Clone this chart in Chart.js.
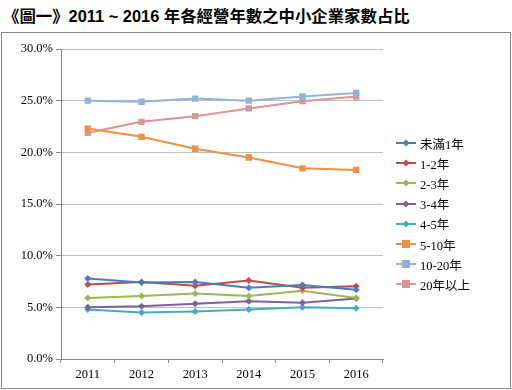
<!DOCTYPE html>
<html><head><meta charset="utf-8">
<script src="https://cdn.jsdelivr.net/npm/chart.js@4"></script>
<style>
html,body{margin:0;padding:0;background:#fff;width:512px;height:390px;overflow:hidden;position:relative}
#title{position:absolute;left:3px;top:3px;font:bold 16.4px "Liberation Sans","Noto Sans CJK TC",sans-serif;color:#000;white-space:nowrap;letter-spacing:0px}
#box{position:absolute;left:1px;top:32px;width:508px;height:355px;border:1px solid #868686}
#wrap{position:absolute;left:1px;top:1px;width:507px;height:354px}
#legend{position:absolute;left:396px;top:133px;font:12.5px "Liberation Serif","Noto Sans CJK TC",serif;color:#000}
.li{height:20.2px;display:flex;align-items:center;position:relative}
.ln{width:20px;height:2px;margin-right:4px;position:relative}
.mk{position:absolute;left:50%;top:50%}
</style></head><body>
<div id="title">《圖一》2011 ~ 2016 年各經營年數之中小企業家數占比</div>
<div id="box"><div id="wrap"><canvas id="c" width="507" height="354"></canvas></div></div>
<div id="legend"></div>
<script>
const years = ['2011','2012','2013','2014','2015','2016'];
const seriesNames = ['未滿1年','1-2年','2-3年','3-4年','4-5年','5-10年','10-20年','20年以上'];
const lt1   = [7.8, 7.4, 7.45, 6.9, 7.15, 6.7];
const y1to2 = [7.2, 7.45, 7.1, 7.6, 6.9, 7.05];
const y2to3 = [5.9, 6.1, 6.35, 6.1, 6.6, 5.9];
const y3to4 = [5.0, 5.1, 5.35, 5.6, 5.45, 5.85];
const y4to5 = [4.8, 4.5, 4.6, 4.8, 5.0, 4.9];
const y5to10 = [22.3, 21.5, 20.35, 19.5, 18.45, 18.3];
const y10to20 = [25.0, 24.9, 25.2, 25.0, 25.4, 25.75];
const y20plus = [21.9, 22.95, 23.5, 24.25, 24.95, 25.4];
const yTicks = [0, 5, 10, 15, 20, 25, 30];

const values = [lt1, y1to2, y2to3, y3to4, y4to5, y5to10, y10to20, y20plus];
const colors = ['#4A7EBB','#BE4B48','#98B954','#7D60A0','#46AAC5','#F09040','#95B3D7','#D99694'];
const shapes = ['rectRot','rectRot','rectRot','rectRot','rectRot','rect','rect','rect'];

const datasets = values.map((v,i)=>({
  label: seriesNames[i], data: v,
  borderColor: colors[i], backgroundColor: colors[i],
  borderWidth: 2, pointStyle: shapes[i],
  pointRadius: shapes[i]==='rect'?4.5:3.5,
  pointBorderWidth: 0, tension: 0
}));

const tickFont = { family: '"Liberation Serif", "Times New Roman", serif', size: 12.5 };

new Chart(document.getElementById('c'), {
  type: 'line',
  data: { labels: years, datasets },
  options: {
    responsive: false, animation: false,
    layout: { padding: { left: 0, right: 127, top: 15, bottom: 0 } },
    plugins: { legend: { display: false }, tooltip: { enabled: false } },
    scales: {
      x: {
        offset: true,
        grid: { offset: true, drawOnChartArea: false, drawTicks: true, tickLength: 4, color: '#868686' },
        border: { color: '#868686', width: 1 },
        ticks: { color: '#000', font: tickFont, padding: 4, maxRotation: 0 },
        afterFit: s => { s.height = 29; }
      },
      y: {
        min: 0, max: 30,
        afterBuildTicks: s => { s.ticks = yTicks.map(v => ({ value: v })); },
        grid: { color: '#BFBFBF', lineWidth: 1, tickLength: 5, tickColor: '#868686' },
        border: { color: '#868686', width: 1 },
        ticks: { color: '#000', font: tickFont, padding: 3,
                 callback: v => v.toFixed(1) + '%' },
        afterFit: s => { s.width = 58; }
      }
    }
  }
});

const leg = document.getElementById('legend');
seriesNames.forEach((n,i)=>{
  const sq = shapes[i]==='rect';
  const sz = sq ? 8 : 5;
  const rot = sq ? '' : 'rotate(45deg)';
  leg.innerHTML += `<div class="li"><div class="ln" style="background:${colors[i]}"><div class="mk" style="width:${sz}px;height:${sz}px;background:${colors[i]};transform:translate(-50%,-50%) ${rot}"></div></div><span>${n}</span></div>`;
});
</script>
</body></html>
